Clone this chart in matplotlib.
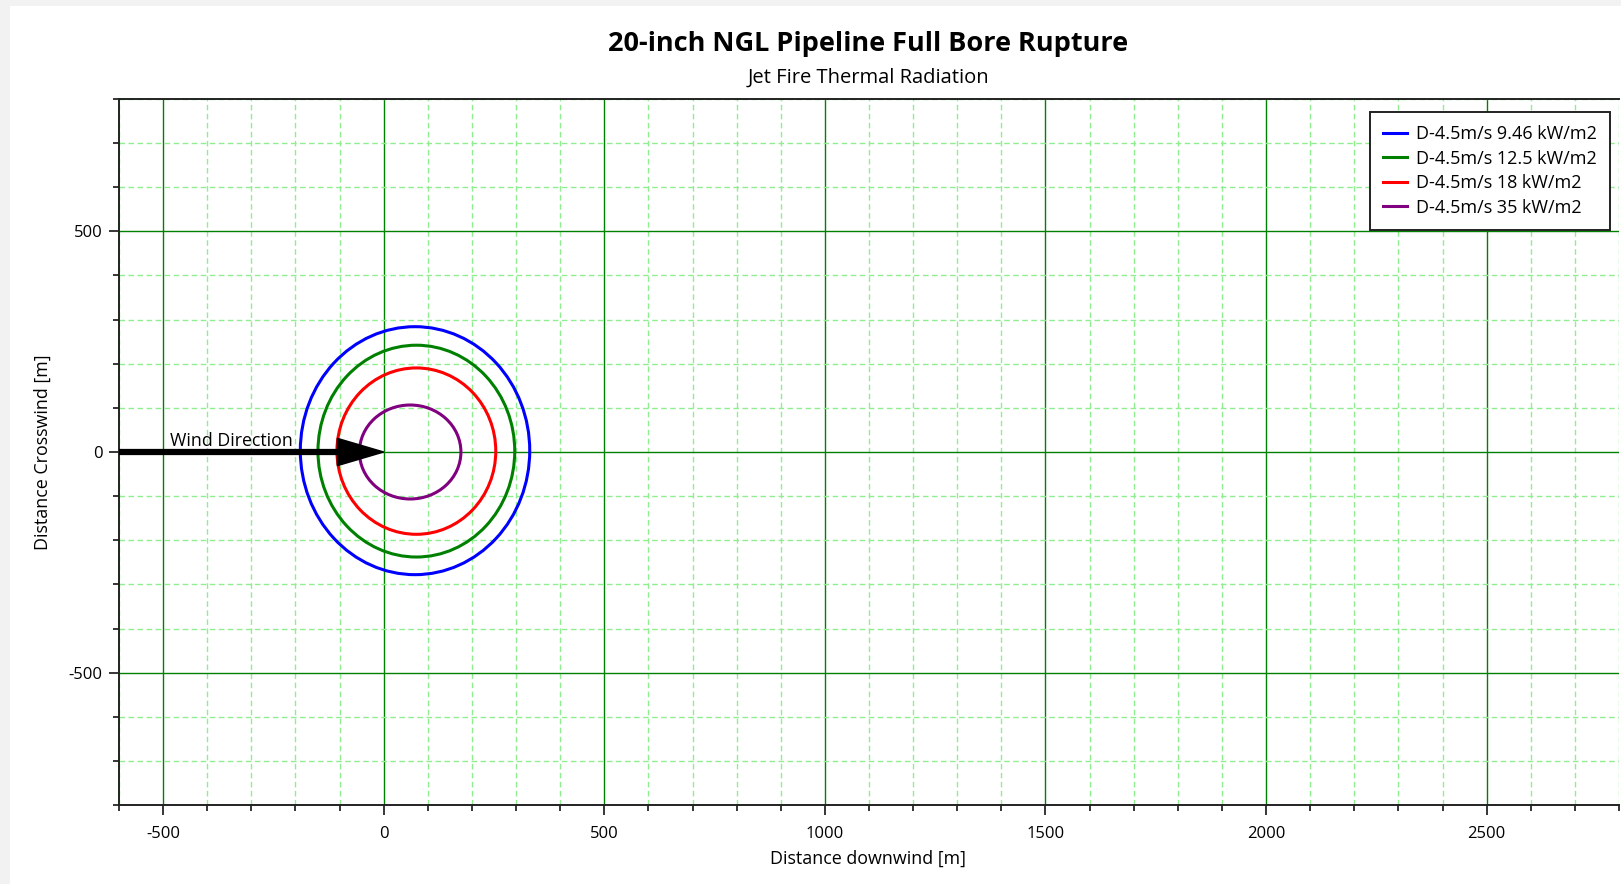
import numpy as np
import matplotlib.pyplot as plt
from matplotlib.patches import Ellipse, Rectangle
from matplotlib.lines import Line2D
from matplotlib.ticker import MultipleLocator

plt.rcParams['font.family'] = ['Open Sans', 'Noto Sans', 'DejaVu Sans']
plt.rcParams['axes.unicode_minus'] = False

# threat zone contours (jet fire thermal radiation)
labels = ['D-4.5m/s 9.46 kW/m2', 'D-4.5m/s 12.5 kW/m2',
          'D-4.5m/s 18 kW/m2', 'D-4.5m/s 35 kW/m2']
colors = ['#0000ff', '#008000', '#ff0000', '#800080']
center_x = [71, 74, 74, 60]
center_y = [3, 2, 2, 0]
widths = [520, 446, 360, 230]
heights = [562, 480, 377, 213]

wind_start = -600
wind_end = 0

fig = plt.figure(figsize=(16.21, 8.84), dpi=100, facecolor='#f2f2f2')
fig.patches.append(Rectangle((10 / 1621, 0), 1, 1 - 6 / 884, transform=fig.transFigure,
                             facecolor='white', edgecolor='none', zorder=-10))

ax = fig.add_axes([119 / 1621, 79 / 884, 1500 / 1621, 706 / 884])
ax.set_xlim(-600, 2800)
ax.set_ylim(-800, 800)

ax.xaxis.set_major_locator(MultipleLocator(500))
ax.xaxis.set_minor_locator(MultipleLocator(100))
ax.yaxis.set_major_locator(MultipleLocator(500))
ax.yaxis.set_minor_locator(MultipleLocator(100))
ax.grid(which='major', color='#008000', lw=1.0, ls='-', zorder=0)
ax.grid(which='minor', color='#90ee90', lw=1.0, ls=(0, (4, 2.5)), zorder=0)
ax.set_axisbelow(True)

ax.tick_params(which='major', direction='out', length=7, width=1.1, labelsize=12, pad=8)
ax.tick_params(which='minor', direction='out', length=4.3, width=1.1)
ax.tick_params(axis='y', which='major', pad=5)
for s in ['top', 'left', 'bottom']:
    ax.spines[s].set_color('#222222')
    ax.spines[s].set_linewidth(1.4)
ax.spines['right'].set_visible(False)

for cx, cy, w, h, c in zip(center_x, center_y, widths, heights, colors):
    ax.add_patch(Ellipse((cx, cy), w, h, fill=False, edgecolor=c, lw=2.2, zorder=3))

ax.arrow(wind_start, 0, wind_end - wind_start, 0, width=11, head_width=62,
         head_length=105, length_includes_head=True, color='black', zorder=4)
ax.text(-345, 4, 'Wind Direction', fontsize=12.8, ha='center', va='bottom', zorder=5)

handles = [Line2D([], [], color=c, lw=2.2) for c in colors]
leg = ax.legend(handles, labels, loc='upper right', bbox_to_anchor=(0.994, 0.982),
                borderaxespad=0, fontsize=13, fancybox=False, framealpha=1,
                edgecolor='#222222', handlelength=1.3, handletextpad=0.5,
                labelspacing=0.36, borderpad=0.75)
leg.get_frame().set_linewidth(1.4)

fig.text(868 / 1621, 1 - 44 / 884, '20-inch NGL Pipeline Full Bore Rupture',
         fontsize=19.5, fontweight='bold', ha='center', va='center')
fig.text(868 / 1621, 1 - 78 / 884, 'Jet Fire Thermal Radiation',
         fontsize=14.5, ha='center', va='center')
fig.text(868 / 1621, 1 - 859 / 884, 'Distance downwind [m]', fontsize=12.9,
         ha='center', va='center')
fig.text(43 / 1621, 1 - 452 / 884, 'Distance Crosswind [m]', fontsize=12.9,
         ha='center', va='center', rotation=90)

fig.savefig('out.png', dpi=100, facecolor=fig.get_facecolor())
